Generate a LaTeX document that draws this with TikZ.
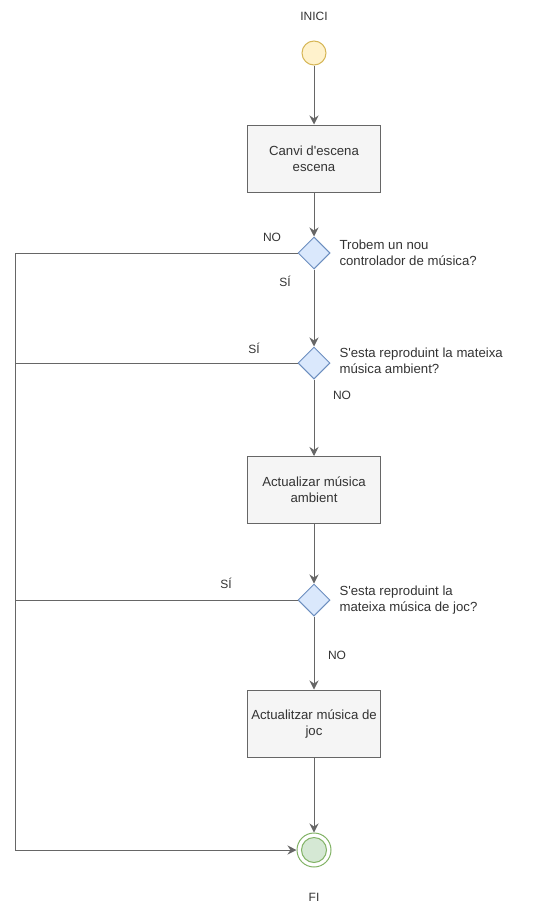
\documentclass[tikz,border=0pt]{standalone}
\usepackage{fontspec}
\setmainfont{Liberation Sans}
\usetikzlibrary{shapes.geometric,arrows.meta}
\definecolor{lineC}{HTML}{666666}
\definecolor{boxF}{HTML}{F5F5F5}
\definecolor{decF}{HTML}{DAE8FC}
\definecolor{decD}{HTML}{6C8EBF}
\definecolor{startF}{HTML}{FFF2CC}
\definecolor{startD}{HTML}{D6B656}
\definecolor{endF}{HTML}{D5E8D4}
\definecolor{endD}{HTML}{82B366}
\newcommand{\apos}{\textquotesingle}
\tikzset{
  every node/.style={font=\fontsize{13.2}{16}\selectfont, text=black!80},
  action/.style={draw=lineC, fill=boxF, line width=1pt, minimum width=133pt, minimum height=67pt, align=center, inner sep=2pt},
  decision/.style={draw=decD, fill=decF, line width=1pt, diamond, minimum width=32pt, minimum height=32pt, inner sep=0pt, aspect=1},
  qtext/.style={anchor=west, align=left},
  lbl/.style={font=\fontsize{12}{14}\selectfont},
  flow/.style={draw=lineC, line width=1pt, -{Stealth[length=9pt,width=9pt,inset=3pt]}},
  plain/.style={draw=lineC, line width=1pt},
}
\begin{document}
\begin{tikzpicture}[x=1pt,y=-1pt]
\useasboundingbox (0,0) rectangle (534,910);
% start and end
\node[lbl] (tinici) at (314,16) {INICI};
\node[circle, draw=startD, fill=startF, line width=1pt, minimum size=24pt, inner sep=0pt] (start) at (314,53) {};
\node[action] (b1) at (314,158.5) {Canvi d\apos escena\\escena};
\node[decision] (d1) at (314,253) {};
\node[qtext] (q1) at (336,253) {Trobem un nou\\controlador de música?};
\node[decision] (d2) at (314,363) {};
\node[qtext] (q2) at (336,361) {S\apos esta reproduint la mateixa\\música ambient?};
\node[action] (b2) at (314,490) {Actualizar música\\ambient};
\node[decision] (d3) at (314,600) {};
\node[qtext] (q3) at (336,600) {S\apos esta reproduint la\\mateixa música de joc?};
\node[action] (b3) at (314,723.5) {Actualitzar música de\\joc};
\node[circle, draw=endD, fill=white, line width=1pt, minimum size=34pt, inner sep=0pt] (end) at (314,850) {};
\node[circle, draw=endD, fill=endF, line width=1pt, minimum size=25pt, inner sep=0pt] (endin) at (314,850) {};
\node[lbl] (tfi) at (314,897) {FI};
% corners of the bypass loop
\coordinate (c1) at (15,253);
\coordinate (c2) at (15,363);
\coordinate (c3) at (15,600);
\coordinate (c4) at (15,850);
% main flow
\draw[flow] (start) -- (b1);
\draw[flow] (b1) -- (d1);
\draw[flow] (d1) -- (d2);
\draw[flow] (d2) -- (b2);
\draw[flow] (b2) -- (d3);
\draw[flow] (d3) -- (b3);
\draw[flow] (b3) -- (end);
% bypass branches
\draw[plain] (d1.west) -- (c1) -- (c4);
\draw[plain] (d2.west) -- (c2);
\draw[plain] (d3.west) -- (c3);
\draw[flow] (c4) -- (end);
% branch labels
\node[lbl] (l1) at (272,237) {NO};
\node[lbl] (l2) at (285,281) {SÍ};
\node[lbl] (l3) at (254,348) {SÍ};
\node[lbl] (l4) at (342,395) {NO};
\node[lbl] (l5) at (226,583) {SÍ};
\node[lbl] (l6) at (337,655) {NO};
\end{tikzpicture}
\end{document}
